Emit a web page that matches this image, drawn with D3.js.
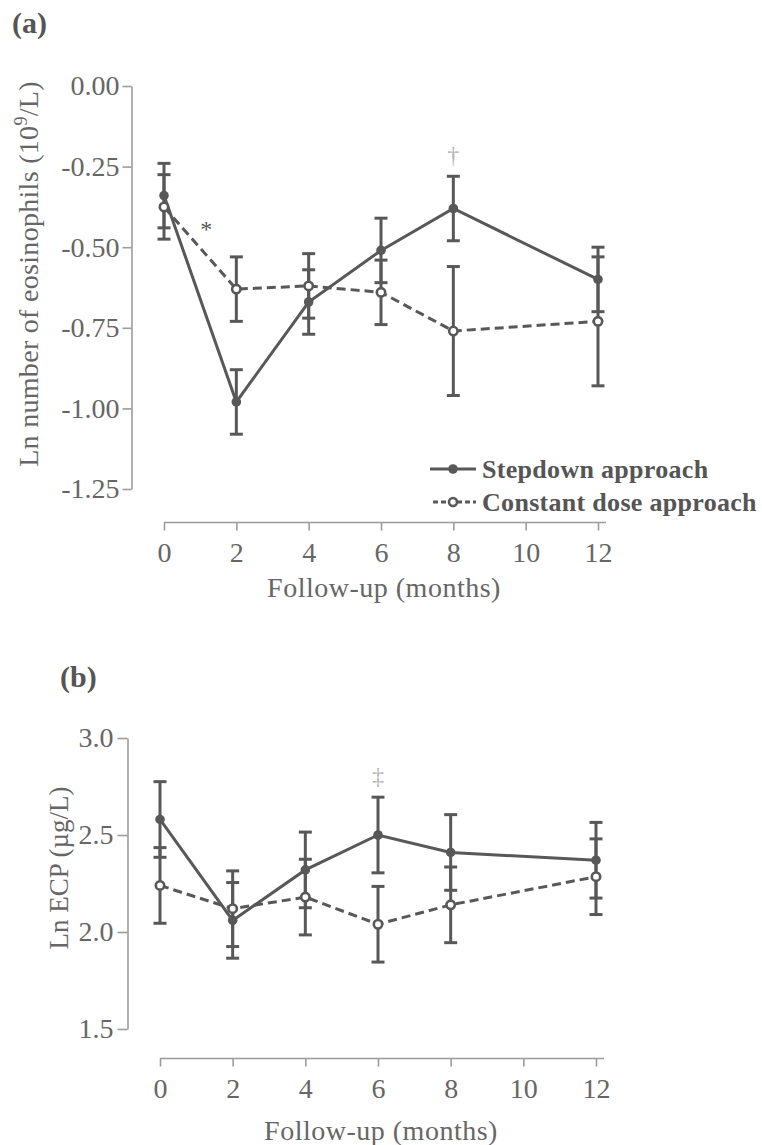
<!DOCTYPE html>
<html>
<head>
<meta charset="utf-8">
<script src="https://cdn.jsdelivr.net/npm/d3@7/dist/d3.min.js"></script>
<style>
  html, body { margin: 0; padding: 0; background: #fff; }
  svg { display: block; }
</style>
</head>
<body>
<svg id="chart" width="762" height="1145" font-family="Liberation Serif, Times New Roman, serif"></svg>
<script>
// Follow-up months shared by both panels
const months = [0, 2, 4, 6, 8, 12];
const xTicks = [0, 2, 4, 6, 8, 10, 12];

// Panel (a): Ln number of eosinophils (10^9/L), mean ± SEM
const eosStepdown = [-0.34, -0.98, -0.67, -0.51, -0.38, -0.60];
const eosStepdownErr = [0.10, 0.10, 0.10, 0.10, 0.10, 0.10];
const eosConstant = [-0.375, -0.63, -0.62, -0.64, -0.76, -0.73];
const eosConstantErr = [0.10, 0.10, 0.10, 0.10, 0.20, 0.20];
const eosTicks = [0, -0.25, -0.5, -0.75, -1.0, -1.25];

// Panel (b): Ln ECP (µg/L), mean ± SEM
const ecpStepdown = [2.58, 2.06, 2.32, 2.50, 2.41, 2.37];
const ecpStepdownErr = [0.195, 0.195, 0.195, 0.195, 0.195, 0.195];
const ecpConstant = [2.24, 2.12, 2.18, 2.04, 2.14, 2.285];
const ecpConstantErr = [0.195, 0.195, 0.195, 0.195, 0.195, 0.195];
const ecpTicks = [3.0, 2.5, 2.0, 1.5];

const seriesNames = ["Stepdown approach", "Constant dose approach"];

const SERIF = "Liberation Serif, Times New Roman, serif";
const INK = "#585858";
const AXIS = "#9c9c9c";
const LABEL = "#666666";

const svg = d3.select("#chart");

function drawPanel(cfg) {
  const g = svg.append("g");
  const x = d3.scaleLinear().domain([0, 12]).range(cfg.xRange);
  const y = d3.scaleLinear().domain(cfg.yDomain).range(cfg.yRange);

  // x axis, with the baseline running a little past the last tick
  const xa = g.append("g")
    .attr("transform", `translate(0,${cfg.xAxisY})`)
    .call(d3.axisBottom(x).tickValues(xTicks).tickSize(8).tickSizeOuter(0)
      .tickPadding(cfg.xPad).tickFormat(d3.format("d")));
  xa.select(".domain").attr("d", `M${x(0)},0H${x(12) + 8}`);
  styleAxis(xa);

  // y axis
  const ya = g.append("g")
    .attr("transform", `translate(${cfg.yAxisX},0)`)
    .call(d3.axisLeft(y).tickValues(cfg.yTicks).tickSize(cfg.yTickSize).tickSizeOuter(0)
      .tickPadding(cfg.yPad).tickFormat(cfg.yFormat));
  styleAxis(ya);

  // axis titles
  g.append("text")
    .attr("x", (cfg.xRange[0] + cfg.xRange[1]) / 2 + 3)
    .attr("y", cfg.xTitleY)
    .attr("text-anchor", "middle")
    .attr("font-family", SERIF)
    .attr("font-size", 28)
    .attr("letter-spacing", 0.5)
    .attr("fill", LABEL)
    .text("Follow-up (months)");

  const yt = g.append("text")
    .attr("transform", `translate(${cfg.yTitleX},${cfg.yTitleCY}) rotate(-90)`)
    .attr("text-anchor", "middle")
    .attr("font-family", SERIF)
    .attr("font-size", cfg.yTitleSize)
    .attr("letter-spacing", cfg.yTitleSpacing)
    .attr("fill", LABEL);
  cfg.yTitle(yt);

  // series: constant dose (dashed, open markers) and stepdown (solid, filled markers)
  const series = [
    { mean: cfg.constant, err: cfg.constantErr, dash: "9,5", open: true },
    { mean: cfg.stepdown, err: cfg.stepdownErr, dash: null, open: false }
  ];

  series.forEach(s => {
    const pts = months.map((m, i) => ({ m, v: s.mean[i], e: s.err[i] }));
    const eb = g.append("g").attr("stroke", INK).attr("stroke-width", 3);
    pts.forEach(p => {
      eb.append("line").attr("x1", x(p.m)).attr("x2", x(p.m))
        .attr("y1", y(p.v + p.e)).attr("y2", y(p.v - p.e));
      [p.v + p.e, p.v - p.e].forEach(c => {
        eb.append("line").attr("x1", x(p.m) - 6.5).attr("x2", x(p.m) + 6.5)
          .attr("y1", y(c)).attr("y2", y(c));
      });
    });
  });

  series.forEach(s => {
    const pts = months.map((m, i) => ({ m, v: s.mean[i] }));
    g.append("path")
      .datum(pts)
      .attr("fill", "none")
      .attr("stroke", INK)
      .attr("stroke-width", 3)
      .attr("stroke-dasharray", s.dash)
      .attr("d", d3.line().x(d => x(d.m)).y(d => y(d.v)));
  });

  series.forEach(s => {
    const pts = months.map((m, i) => ({ m, v: s.mean[i] }));
    g.selectAll(null).data(pts).enter().append("circle")
      .attr("cx", d => x(d.m)).attr("cy", d => y(d.v))
      .attr("r", s.open ? 4.2 : 4.8)
      .attr("fill", s.open ? "#fff" : INK)
      .attr("stroke", INK)
      .attr("stroke-width", s.open ? 2.6 : 0);
  });

  return { g, x, y };
}

function styleAxis(a) {
  a.attr("font-family", SERIF).attr("font-size", 28);
  a.select(".domain").attr("stroke", AXIS).attr("stroke-width", 1.6);
  a.selectAll(".tick line").attr("stroke", AXIS).attr("stroke-width", 1.6);
  a.selectAll(".tick text")
    .attr("fill", LABEL)
    .attr("font-family", SERIF)
    .attr("font-size", 28);
}

// ---- Panel (a)
const pa = drawPanel({
  xRange: [164, 598], yDomain: [-1.25, 0], yRange: [489, 86],
  xAxisY: 522.5, yAxisX: 131.5, xPad: 12, yPad: 3, yTickSize: 9,
  yTicks: eosTicks, yFormat: d3.format(".2f"),
  xTitleY: 597, yTitleX: 38, yTitleCY: 274, yTitleSize: 28, yTitleSpacing: 0.3,
  stepdown: eosStepdown, stepdownErr: eosStepdownErr,
  constant: eosConstant, constantErr: eosConstantErr,
  yTitle: t => {
    t.append("tspan").text("Ln number of eosinophils (10");
    t.append("tspan").attr("font-size", 18).attr("dy", -11).text("9");
    t.append("tspan").attr("dy", 11).text("/L)");
  }
});
// hyphen-minus on negative tick labels, as printed
pa.g.selectAll(".tick text").each(function () {
  const s = d3.select(this); s.text(s.text().replace("\u2212", "-"));
});

// ---- Panel (b)
const pb = drawPanel({
  xRange: [160, 596], yDomain: [1.5, 3.0], yRange: [1029, 738],
  xAxisY: 1058.5, yAxisX: 127.5, xPad: 12, yPad: 4, yTickSize: 10,
  yTicks: ecpTicks, yFormat: d3.format(".1f"),
  xTitleY: 1140, yTitleX: 68, yTitleCY: 868, yTitleSize: 27, yTitleSpacing: 0,
  stepdown: ecpStepdown, stepdownErr: ecpStepdownErr,
  constant: ecpConstant, constantErr: ecpConstantErr,
  yTitle: t => t.text("Ln ECP (\u00b5g/L)")
});

// panel letters
svg.append("text").attr("x", 12).attr("y", 33).attr("font-size", 30)
  .attr("font-family", SERIF).attr("font-weight", "bold").attr("fill", "#555").text("(a)");
svg.append("text").attr("x", 60).attr("y", 687).attr("font-size", 30)
  .attr("font-family", SERIF).attr("font-weight", "bold").attr("fill", "#555").text("(b)");

// significance markers
svg.append("text").attr("x", pa.x(1.17)).attr("y", 237).attr("text-anchor", "middle")
  .attr("font-family", SERIF).attr("font-size", 24).attr("fill", "#555").text("*");
svg.append("text").attr("x", pa.x(8)).attr("y", 163).attr("text-anchor", "middle")
  .attr("font-family", SERIF).attr("font-size", 24).attr("fill", "#b4b4b4").text("\u2020");
svg.append("text").attr("x", pb.x(6)).attr("y", 784).attr("text-anchor", "middle")
  .attr("font-family", SERIF).attr("font-size", 24).attr("fill", "#b4b4b4").text("\u2021");

// legend (panel a)
const legend = svg.append("g");
const legendRows = [
  { y: 469, dash: null, open: false },
  { y: 502, dash: "5,3", open: true }
];
legendRows.forEach((r, i) => {
  legend.append("line").attr("x1", r.open ? 433 : 430).attr("x2", 476)
    .attr("y1", r.y).attr("y2", r.y)
    .attr("stroke", INK).attr("stroke-width", 3).attr("stroke-dasharray", r.dash);
  legend.append("circle").attr("cx", 453).attr("cy", r.y)
    .attr("r", r.open ? 4 : 4.8)
    .attr("fill", r.open ? "#fff" : INK)
    .attr("stroke", INK).attr("stroke-width", r.open ? 2.6 : 0);
  legend.append("text").attr("x", 482).attr("y", r.y + 9)
    .attr("font-family", SERIF)
    .attr("font-size", 26).attr("font-weight", "bold").attr("letter-spacing", 0.3)
    .attr("fill", "#555").text(seriesNames[i]);
});
</script>
</body>
</html>
